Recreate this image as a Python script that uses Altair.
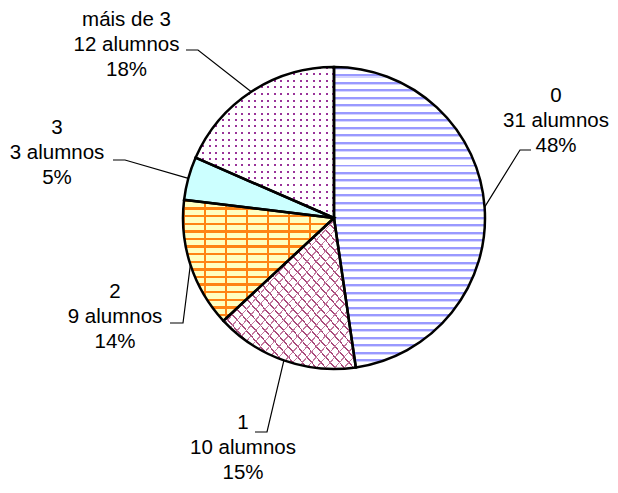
import math
import altair as alt
import pandas as pd

# ---------------- data ----------------
categories = ["0", "1", "2", "3", "máis de 3"]
counts = [31, 10, 9, 3, 12]

# ---------------- layout ----------------
CX, CY, R = 326, 210, 151          # pie centre / radius inside the view (px)
FONT = "Liberation Sans"
FS = 20.5
LH = 25
# label block centre (x, y of middle line) and leader elbow / end, per slice
label_layout = [
    {"tx": 548, "ty": 113, "elbow": (512, 142), "end": (523, 142)},
    {"tx": 235, "ty": 440, "elbow": (259, 424), "end": (247, 424)},
    {"tx": 107, "ty": 309, "elbow": (175, 315), "end": (162, 315)},
    {"tx": 49, "ty": 145, "elbow": (117, 152), "end": (105, 152)},
    {"tx": 118.5, "ty": 37, "elbow": (190, 42), "end": (178, 42)},
]

total = sum(counts)
pcts = [round(100 * n / total) for n in counts]

angles = []
acc = 0
for n in counts:
    a0 = acc / total * 360
    acc += n
    a1 = acc / total * 360
    angles.append((a0, a1))


def pt(a, r=R):
    t = math.radians(a)
    return (r * math.sin(t), -r * math.cos(t))


def bbox(a0, a1):
    pts = [(0, 0), pt(a0), pt(a1)] + [pt(c) for c in (0, 90, 180, 270, 360) if a0 < c < a1]
    xs = [p[0] for p in pts]
    ys = [p[1] for p in pts]
    return max(xs) - min(xs), max(ys) - min(ys)


def stripe_stops(total_px, period, segs):
    stops = []
    k = 0
    while k * period < total_px:
        for a, b, col in segs:
            o1 = (k * period + a) / total_px
            if o1 >= 1:
                break
            o2 = min((k * period + b) / total_px, 1)
            stops.append({"offset": round(o1, 6), "color": col})
            stops.append({"offset": round(o2, 6), "color": col})
        k += 1
    return stops


def lin(x1, y1, x2, y2, stops):
    return {"gradient": "linear", "x1": x1, "y1": y1, "x2": x2, "y2": y2, "stops": stops}


CLEAR = "rgba(255,255,255,0)"

# slice 0: horizontal blue lines
w0, h0 = bbox(*angles[0])
fill0 = lin(0, 0, 0, 1, stripe_stops(h0, 7.5, [(0, 1.6, "#9999ff"), (1.6, 3.0, "#d4d4ff"), (3.0, 7.5, "#ffffff")]))

# slice 1: maroon cross-hatch (shingles)
w1, h1 = bbox(*angles[1])
diag1 = 2 / math.sqrt(1 / w1 ** 2 + 1 / h1 ** 2)
fill1a = lin(0, 1, 1, 0, stripe_stops(diag1, 7.0, [(0, 1.3, "#a8497a"), (1.3, 7.0, "#ffffff")]))
fill1b = lin(0, 0, 1, 1, stripe_stops(diag1, 7.0, [(0, 1.0, "#c47aa0"), (1.0, 7.0, CLEAR)]))

# slice 2: orange bricks on pale yellow
w2, h2 = bbox(*angles[2])
fill2a = lin(0, 0, 0, 1, stripe_stops(h2, 7.6, [(0, 2.4, "#ff8414"), (2.4, 7.6, "#ffffc0")]))
fill2b = lin(0, 0, 1, 0, stripe_stops(w2, 21.0, [(0, 2.4, "#ff8414"), (2.4, 21.0, CLEAR)]))

# slice 3: light cyan
fill3 = "#ccffff"

# slice 4: purple dots on white
w4, h4 = bbox(*angles[4])
fill4a = lin(0, 0, 0, 1, stripe_stops(h4, 6.5, [(0, 2.0, "#993399"), (2.0, 6.5, "#ffffff")]))
fill4b = lin(0, 0, 1, 0, stripe_stops(w4, 6.5, [(0, 2.0, CLEAR), (2.0, 6.5, "#ffffff")]))

pie_df = pd.DataFrame({"cat": categories, "n": counts, "idx": list(range(len(categories)))})


def arc_layer(k, fill):
    return alt.Chart(pie_df).mark_arc(outerRadius=R, fill=fill, strokeWidth=0).encode(
        theta=alt.Theta("n:Q", stack=True),
        order=alt.Order("idx:Q"),
        x=alt.value(CX),
        y=alt.value(CY),
        opacity=alt.condition(alt.datum.idx == k, alt.value(1), alt.value(0)),
    )


arcs = [
    arc_layer(0, fill0),
    arc_layer(1, fill1a),
    arc_layer(1, fill1b),
    arc_layer(2, fill2a),
    arc_layer(2, fill2b),
    arc_layer(3, fill3),
    arc_layer(4, fill4a),
    arc_layer(4, fill4b),
]

outline = alt.Chart(pie_df).mark_arc(
    outerRadius=R, fillOpacity=0, stroke="black", strokeWidth=2.5
).encode(
    theta=alt.Theta("n:Q", stack=True),
    order=alt.Order("idx:Q"),
    x=alt.value(CX),
    y=alt.value(CY),
)

# leader lines: from slice edge at mid angle to label
lead_rows = []
for i, (a0, a1) in enumerate(angles):
    ex, ey = pt((a0 + a1) / 2)
    L = label_layout[i]
    pts = [(CX + ex, CY + ey), L["elbow"], L["end"]]
    for j, (x, y) in enumerate(pts):
        lead_rows.append({"cat": categories[i], "pt": j, "lx": x, "ly": y})
lead_df = pd.DataFrame(lead_rows)

leaders = alt.Chart(lead_df).mark_line(color="black", strokeWidth=1.2).encode(
    x=alt.X("lx:Q", scale=None, axis=None),
    y=alt.Y("ly:Q", scale=None, axis=None),
    detail="cat:N",
    order="pt:Q",
)

# labels
text_rows = []
for i, c in enumerate(categories):
    L = label_layout[i]
    lines = [c, f"{counts[i]} alumnos", f"{pcts[i]}%"]
    for j, s in enumerate(lines):
        text_rows.append({"txt": s, "px": L["tx"], "py": L["ty"] + (j - 1) * LH})
text_df = pd.DataFrame(text_rows)

labels = alt.Chart(text_df).mark_text(
    font=FONT, fontSize=FS, color="black", align="center", baseline="middle"
).encode(
    x=alt.X("px:Q", scale=None, axis=None),
    y=alt.Y("py:Q", scale=None, axis=None),
    text="txt:N",
)

chart = alt.layer(*arcs, outline, leaders, labels).properties(
    width=602, height=477, padding=0, autosize=alt.AutoSizeParams(type="none")
).configure_view(stroke=None)

chart.save("out.html", embed_options={"renderer": "svg", "actions": False})
